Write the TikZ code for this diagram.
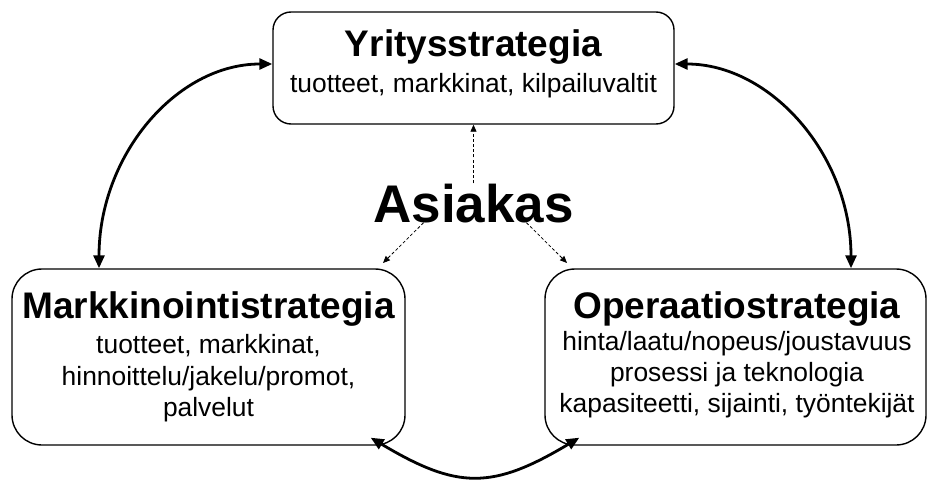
\documentclass[tikz,border=0pt]{standalone}
\usepackage{fontspec}
\setmainfont{Liberation Sans}
\usetikzlibrary{arrows.meta}
\begin{document}
\begin{tikzpicture}[x=1pt,y=1pt,
  box/.style={draw, line width=1.4pt, rounded corners=#1, inner sep=0pt},
  ttl/.style={font=\fontsize{37}{44}\selectfont\bfseries, anchor=base, inner sep=0pt},
  bdy/.style={font=\fontsize{26.4}{31}\selectfont, anchor=base, inner sep=0pt},
  bigtxt/.style={font=\fontsize{53}{60}\selectfont\bfseries, anchor=base, inner sep=0pt},
  solidarrow/.style={line width=2.8pt, {Triangle[length=13pt,width=11pt]}-{Triangle[length=13pt,width=11pt]}},
  dasharrow/.style={line width=0.8pt, dash pattern=on 3pt off 2.2pt, -{Triangle[length=7pt,width=6pt]}},
]
\useasboundingbox (0,0) rectangle (928,480);

% boxes
\node[box=18pt, minimum width=401pt, minimum height=112pt] (top) at (473.5,412) {};
\node[box=30pt, minimum width=393pt, minimum height=176pt] (ml) at (208.5,123) {};
\node[box=30pt, minimum width=381pt, minimum height=176pt] (mr) at (735.5,123) {};

% texts
\node[ttl] (t1) at (473.5,423) {Yritysstrategia};
\node[bdy] (t2) at (473.5,387) {tuotteet, markkinat, kilpailuvaltit};

\node[ttl] (l0) at (208.5,162) {Markkinointistrategia};
\node[bdy] (l1) at (208.5,127) {tuotteet, markkinat,};
\node[bdy] (l2) at (208.5,95) {hinnoittelu/jakelu/promot,};
\node[bdy] (l3) at (208.5,63.5) {palvelut};

\node[ttl] (r0) at (737,162) {Operaatiostrategia};
\node[bdy] (r1) at (737,130) {hinta/laatu/nopeus/joustavuus};
\node[bdy] (r2) at (737,99) {prosessi ja teknologia};
\node[bdy] (r3) at (737,67.5) {kapasiteetti, sijainti, työntekijät};

\node[bigtxt] (asiakas) at (473.5,258) {Asiakas};

% dashed arrows
\coordinate (dl) at (383,217);
\coordinate (dr) at (567,217);
\draw[dasharrow] (asiakas.north) -- (top.south);
\draw[dasharrow] ([xshift=-50pt]asiakas.south) -- (dl);
\draw[dasharrow] ([xshift=53pt]asiakas.south) -- (dr);

% solid arrows
\draw[solidarrow] ([yshift=4pt]top.west) .. controls +(-96,0) and +(0,113) .. ([xshift=-109.5pt]ml.north);
\draw[solidarrow] ([yshift=4pt]top.east) .. controls +(96,0) and +(0,113) .. ([xshift=115.5pt]mr.north);
\draw[solidarrow] ([shift={(-35pt,8pt)}]ml.south east) .. controls +(87,-52) and +(-87,-52) .. ([shift={(35pt,8pt)}]mr.south west);
\end{tikzpicture}
\end{document}
